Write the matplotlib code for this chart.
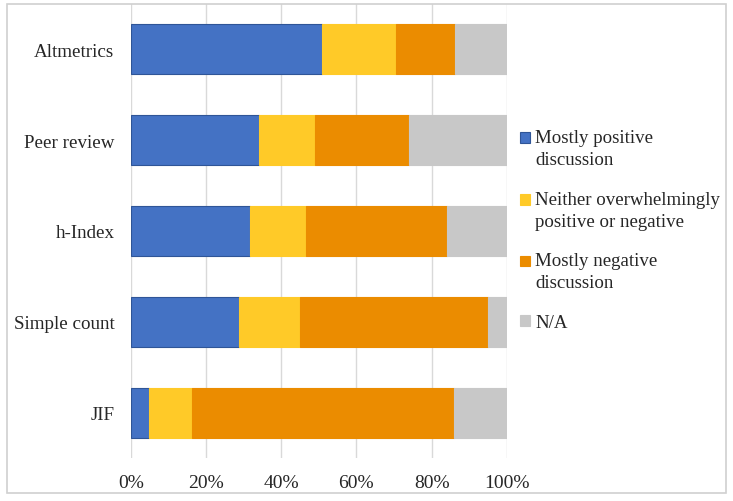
import matplotlib.pyplot as plt
from matplotlib.patches import Rectangle
from matplotlib.container import BarContainer
from matplotlib.legend_handler import HandlerPatch, update_from_first_child

plt.rcParams['font.family'] = ['Liberation Serif', 'DejaVu Serif']

# values (percent of papers)
categorias = ['Altmetrics', 'Peer review', 'h-Index', 'Simple count', 'JIF']
positivo = [50.9, 34.1, 31.6, 28.8, 4.8]
neutro = [19.6, 14.9, 15.0, 16.1, 11.4]
negativo = [15.7, 25.1, 37.4, 50.2, 69.8]
na = [13.8, 25.9, 16.0, 4.9, 14.0]

series = ['Mostly positive\ndiscussion',
          'Neither overwhelmingly\npositive or negative',
          'Mostly negative\ndiscussion',
          'N/A']
cores = ['#4472C4', '#FFCA28', '#EB8C00', '#C8C8C8']
bordas = ['#2F5597', '#FFCA28', '#EB8C00', '#C8C8C8']
cor_texto = '#262626'


def quadrado(legend, orig_handle, xdescent, ydescent, width, height, fontsize):
    # marcador alinhado com a primeira linha do texto, como no Excel
    desloc = 7.6 if '\n' in orig_handle.get_label() else 0
    return Rectangle((-xdescent, -ydescent + desloc), width, height)


fig = plt.figure(figsize=(7.33, 5.02), dpi=100)
# moldura cinzenta do grafico
fig.patches.append(Rectangle((7 / 733, 8 / 502), 719 / 733, 489 / 502,
                             transform=fig.transFigure, fill=False,
                             edgecolor='#D0D0D0', linewidth=1.2))

ax = fig.add_axes([0.1787, 0.0847, 0.5126, 0.9063])

esquerda = [0] * len(categorias)
for valores, nome, cor, borda in zip([positivo, neutro, negativo, na], series, cores, bordas):
    ax.barh(categorias, valores, left=esquerda, height=0.56, color=cor,
            edgecolor=borda, linewidth=0.8, label=nome, zorder=3)
    esquerda = [a + b for a, b in zip(esquerda, valores)]

ax.set_xlim(0, 100)
ax.set_ylim(4.5, -0.5)
ax.set_xticks([0, 20, 40, 60, 80, 100])
ax.set_xticklabels(['0%', '20%', '40%', '60%', '80%', '100%'])
ax.grid(axis='x', color='#D9D9D9', linewidth=1, zorder=0)
for s in ax.spines.values():
    s.set_visible(False)
ax.tick_params(axis='x', length=0, labelsize=14, colors=cor_texto, pad=11)
ax.tick_params(axis='y', length=0, labelsize=13.7, colors=cor_texto, pad=12)

leg = fig.legend(loc='center left', bbox_to_anchor=(0.7096, 0.540), frameon=False,
                 fontsize=13.6, handlelength=0.5, handleheight=0.5, handletextpad=0.3,
                 labelspacing=1.2, labelcolor=cor_texto, borderpad=0, borderaxespad=0,
                 handler_map={BarContainer: HandlerPatch(patch_func=quadrado,
                                                         update_func=update_from_first_child)})
for t in leg.get_texts():
    t.set_linespacing(1.38)

fig.savefig('out.png', dpi=100)
